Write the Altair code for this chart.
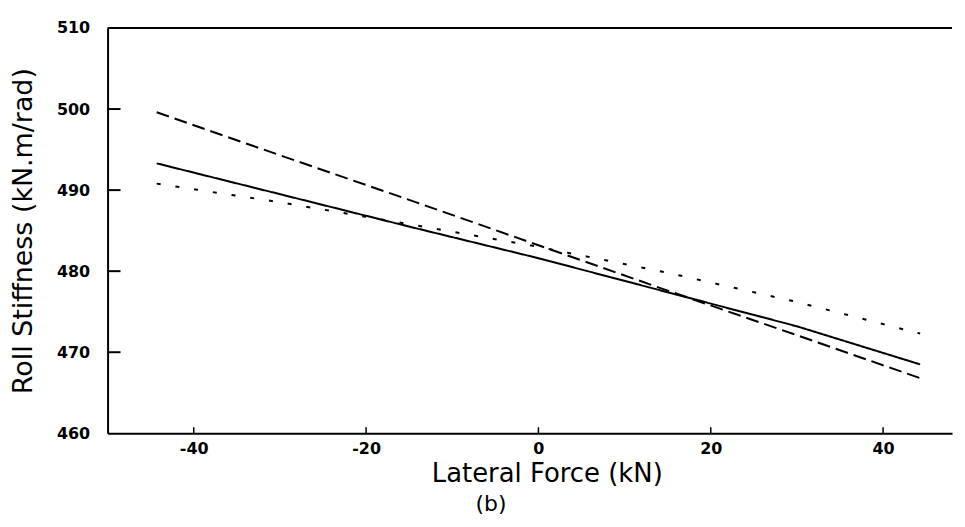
import altair as alt
import pandas as pd

# Data
force_kn = [-44.3, -30, -15, 0, 15, 30, 44.3]
solid_vals = [493.3, 489.5, 485.5, 481.6, 477.4, 473.2, 468.5]
dashed_vals = [499.6, 494.3, 488.8, 483.2, 477.6, 472.1, 466.8]
dotted_vals = [490.8, 488.5, 485.8, 483.0, 479.8, 476.2, 472.3]

x_ticks = [-40, -20, 0, 20, 40]
y_ticks = [460, 470, 480, 490, 500, 510]
y_inner_ticks = [470, 480, 490, 500]

rows = []
for name, vals in [("solid", solid_vals), ("dashed", dashed_vals), ("dotted", dotted_vals)]:
    for f, v in zip(force_kn, vals):
        rows.append({"force": f, "stiff": v, "series": name})
df = pd.DataFrame(rows)

W, H = 848, 407
xscale = alt.Scale(domain=[-50, 48], nice=False, zero=False)
yscale = alt.Scale(domain=[460, 510], nice=False, zero=False)

lines = alt.Chart(df).mark_line(color="black", strokeWidth=2).encode(
    x=alt.X("force:Q", scale=xscale,
            axis=alt.Axis(values=x_ticks, title="Lateral Force (kN)", ticks=False,
                          grid=False, domainColor="black", domainWidth=2,
                          labelExpr="'' + datum.value",
                          labelPadding=7, titlePadding=4, titleFontSize=26,
                          titleX=441, titleAlign="center",
                          labelFontSize=16)),
    y=alt.Y("stiff:Q", scale=yscale,
            axis=alt.Axis(values=y_ticks, title="Roll Stiffness (kN.m/rad)", ticks=False,
                          grid=False, domainColor="black", domainWidth=2,
                          labelPadding=18, titlePadding=19, titleFontSize=27,
                          labelFontSize=16)),
    strokeDash=alt.StrokeDash("series:N",
                              scale=alt.Scale(domain=["solid", "dashed", "dotted"],
                                              range=[[1, 0], [13, 6], [4, 15]]),
                              legend=None),
    detail="series:N",
)

top_border = alt.Chart(pd.DataFrame({"v": [510]})).mark_rule(color="black", strokeWidth=2).encode(
    y=alt.Y("v:Q", scale=yscale)
)

ytick_marks = alt.Chart(pd.DataFrame({"v": y_inner_ticks})).mark_rule(color="black", strokeWidth=2).encode(
    y=alt.Y("v:Q", scale=yscale),
    x=alt.value(0),
    x2=alt.value(13),
)

xtick_marks = alt.Chart(pd.DataFrame({"v": x_ticks})).mark_rule(color="black", strokeWidth=1.5).encode(
    x=alt.X("v:Q", scale=xscale),
    y=alt.value(H),
    y2=alt.value(H - 6),
)

chart = alt.layer(lines, top_border, ytick_marks, xtick_marks).properties(
    width=W,
    height=H,
    background="white",
    title=alt.TitleParams(text="(b)", orient="bottom", anchor="middle", dx=-39,
                          offset=8, fontSize=22, font="DejaVu Sans",
                          fontWeight="normal", color="black"),
    autosize=alt.AutoSizeParams(type="none"),
    padding={"left": 100, "top": 19, "right": 5, "bottom": 85},
).configure_view(stroke=None).configure_axis(
    labelFont="DejaVu Sans", labelFontWeight="bold", labelColor="black",
    titleFont="DejaVu Sans", titleFontWeight="normal", titleColor="black",
)

chart.save("out.html", embed_options={"renderer": "svg", "actions": False})
